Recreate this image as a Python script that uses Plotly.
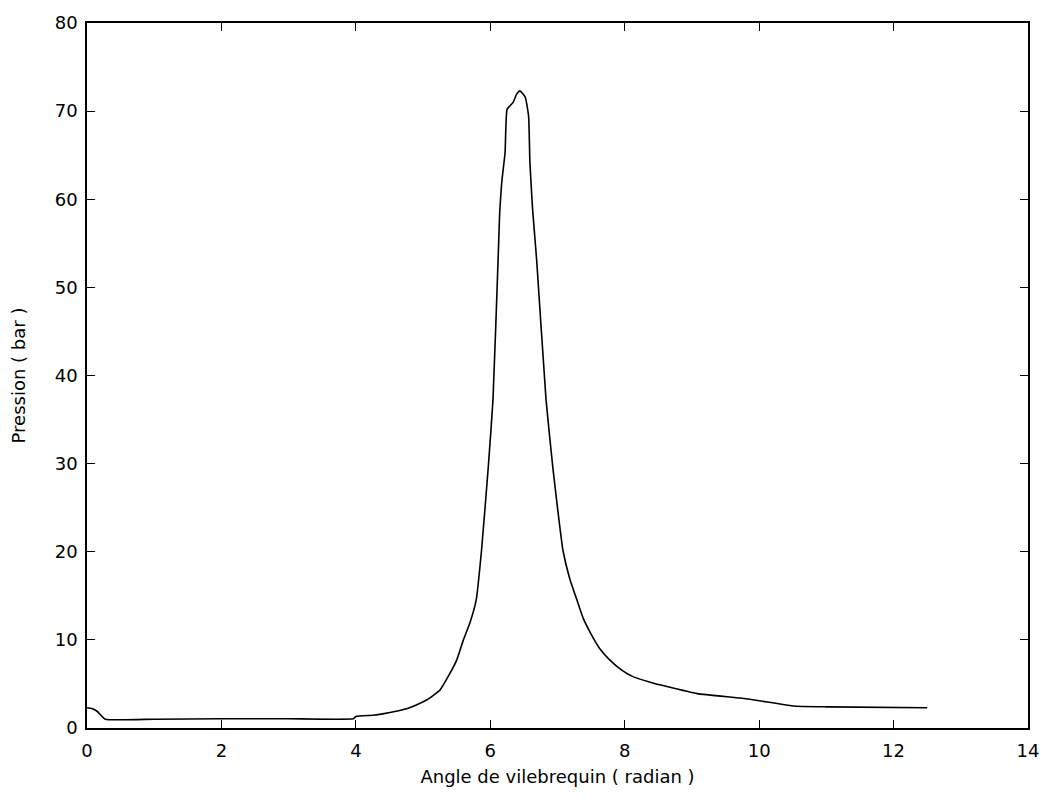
import plotly.graph_objects as go

# crank angle (radian) and cylinder pressure (bar)
angle = [
    0.0, 0.07, 0.15, 0.27, 1.0, 2.0, 3.0, 3.96, 4.0, 4.26, 4.4, 4.6, 4.8,
    5.06, 5.25, 5.37, 5.5, 5.6, 5.7, 5.79, 5.87, 5.97, 6.04, 6.12, 6.14,
    6.17, 6.22, 6.25, 6.34, 6.39, 6.44, 6.52, 6.57, 6.59, 6.63, 6.69, 6.83,
    6.93, 7.0, 7.08, 7.18, 7.29, 7.38, 7.49, 7.63, 7.78, 7.95, 8.13, 8.38,
    8.63, 9.08, 9.72, 10.0, 10.5, 11.0, 12.5,
]
pressure = [
    2.3, 2.2, 1.9, 1.0, 1.0, 1.05, 1.05, 1.05, 1.3, 1.45, 1.6, 1.9, 2.3,
    3.2, 4.3, 5.8, 7.7, 10.0, 12.0, 14.5, 20.2, 29.6, 37.2, 54.0, 58.5,
    61.9, 65.3, 70.2, 71.0, 71.9, 72.3, 71.6, 69.4, 64.1, 58.8, 53.1, 37.2,
    29.6, 25.0, 20.2, 17.0, 14.5, 12.5, 10.8, 9.0, 7.7, 6.6, 5.8, 5.2,
    4.7, 3.9, 3.4, 3.1, 2.5, 2.4, 2.3,
]

x_ticks = [0, 2, 4, 6, 8, 10, 12, 14]
y_ticks = [0, 10, 20, 30, 40, 50, 60, 70, 80]

fig = go.Figure()
fig.add_trace(
    go.Scatter(
        x=angle,
        y=pressure,
        mode="lines",
        line=dict(color="black", width=1.6, shape="spline", smoothing=0.4),
        showlegend=False,
    )
)

axis_style = dict(
    showgrid=False,
    zeroline=False,
    showline=True,
    automargin=False,
    linecolor="black",
    linewidth=1.5,
    mirror="ticks",
    ticks="inside",
    ticklen=8,
    tickwidth=1.2,
    tickcolor="black",
    tickfont=dict(size=18, color="black"),
)

fig.update_xaxes(
    range=[0, 14],
    tickvals=x_ticks,
    ticklabelstandoff=6,
    title=dict(text="Angle de vilebrequin ( radian )", font=dict(size=18, color="black"), standoff=10),
    **axis_style,
)
fig.update_yaxes(
    range=[0, 80],
    tickvals=y_ticks,
    ticklabelstandoff=4,
    title=dict(text="Pression ( bar )", font=dict(size=18, color="black"), standoff=24),
    **axis_style,
)

fig.update_layout(
    width=1041,
    height=800,
    margin=dict(l=87, r=13, t=23, b=72, autoexpand=False),
    paper_bgcolor="white",
    plot_bgcolor="white",
    font=dict(family="DejaVu Sans", color="black"),
)

# drop the default body margin and scrollbars so the figure fills the window
fig.write_html(
    "out.html",
    config={"displayModeBar": False},
    post_script="document.body.style.margin='0';document.body.style.overflow='hidden';",
)
